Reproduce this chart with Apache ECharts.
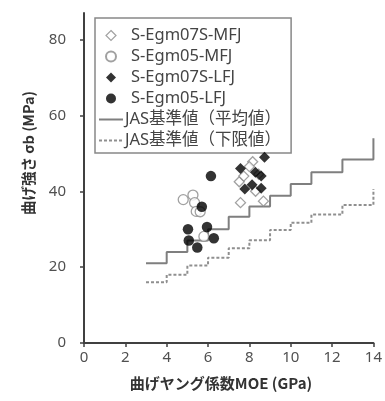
<!DOCTYPE html>
<html><head><meta charset="utf-8">
<script src="https://cdn.jsdelivr.net/npm/echarts@6/dist/echarts.min.js"></script>
<style>html,body{margin:0;padding:0;background:#fff}#c{width:385px;height:401px}</style>
</head><body><div id="c"></div>
<script>
const seriesNames = ['S-Egm07S-MFJ','S-Egm05-MFJ','S-Egm07S-LFJ','S-Egm05-LFJ','JAS基準値（平均値）','JAS基準値（下限値）'];
const egm07sMFJ = [[7.57,37.0],[8.68,37.4],[8.16,47.8],[8.0,46.5],[7.51,42.5],[7.73,44.0],[8.3,40.0],[8.45,44.5]];
const egm05MFJ = [[4.8,37.8],[5.27,39.0],[5.35,37.0],[5.43,34.7],[5.62,34.6],[5.8,28.1]];
const egm07sLFJ = [[8.73,49.0],[7.57,46.0],[8.29,45.0],[8.57,44.0],[7.78,40.6],[8.13,41.7],[8.57,40.8]];
const egm05LFJ = [[6.14,44.0],[5.7,35.9],[5.03,30.0],[5.95,30.6],[5.07,27.0],[5.48,25.2],[6.28,27.6]];
const jasMean = [[3,21],[4,24],[5,27],[6,30],[7,33.3],[8,36],[9,38.8],[10,41.9],[11,45],[12.5,48.4],[14,54]];
const jasLower = [[3,16],[4,18],[5,20.4],[6,22.5],[7,25],[8,27.1],[9,29.8],[10,31.7],[11,33.9],[12.5,36.4],[14,40.6]];
const xTicks = [0,2,4,6,8,10,12,14];
const yTicks = [0,20,40,60,80];
const xTitle = '曲げヤング係数MOE (GPa)';
const yTitle = '曲げ強さ σb (MPa)';

const chart = echarts.init(document.getElementById('c'));
const latin = '"Noto Sans","Noto Sans CJK JP",sans-serif';
const diamondPath = 'path://M5,0L10,5L5,10L0,5Z';
const symText = {padding:[0,0,0,3]};
chart.setOption({
  animation:false,
  backgroundColor:'#fff',
  grid:{left:84,right:7,top:13,bottom:58},
  xAxis:{type:'value',min:0,max:14,interval:2,
    axisLine:{lineStyle:{color:'#404040',width:2}},
    axisTick:{show:true,length:4,lineStyle:{color:'#404040',width:1.5}},
    axisLabel:{color:'#505050',fontSize:15,fontFamily:latin,margin:7},
    splitLine:{show:false}},
  yAxis:{type:'value',min:0,max:87,
    axisLine:{show:true,lineStyle:{color:'#404040',width:2}},
    axisTick:{show:true,length:4,customValues:yTicks,lineStyle:{color:'#404040',width:1.5}},
    axisLabel:{color:'#505050',fontSize:15,fontFamily:latin,margin:18,customValues:yTicks},
    splitLine:{show:false}},
  legend:{orient:'vertical',left:95,top:18,itemWidth:24,itemHeight:10,itemGap:4,
    symbolKeepAspect:true,
    borderColor:'#888',borderWidth:1.5,padding:[9,10,4,3],
    textStyle:{color:'#444',fontSize:16.5,fontFamily:latin,lineHeight:17,padding:[0,0,0,-3]},
    data:[
      {name:seriesNames[0],icon:diamondPath,itemStyle:{color:'#fff',borderColor:'#8a8a8a',borderWidth:1.2},textStyle:symText},
      {name:seriesNames[1],icon:'circle',textStyle:symText},
      {name:seriesNames[2],icon:diamondPath,textStyle:symText},
      {name:seriesNames[3],icon:'circle',textStyle:symText},
      {name:seriesNames[4],itemStyle:{opacity:0}},
      {name:seriesNames[5],itemStyle:{opacity:0}}
    ]},
  graphic:[
    {type:'text',x:221,y:383,style:{text:xTitle,align:'center',verticalAlign:'middle',fill:'#333',font:'bold 15px "Noto Sans CJK JP","Noto Sans",sans-serif'}},
    {type:'text',x:28,y:153,rotation:Math.PI/2,style:{text:yTitle,align:'center',verticalAlign:'middle',fill:'#333',font:'bold 14.5px "Noto Sans CJK JP","Noto Sans",sans-serif'}}
  ],
  series:[
    {name:seriesNames[4],type:'line',step:'end',data:jasMean,symbol:'none',itemStyle:{color:'#7f7f7f'},lineStyle:{color:'#7f7f7f',width:2},z:1},
    {name:seriesNames[5],type:'line',step:'end',data:jasLower,symbol:'none',itemStyle:{color:'#8f8f8f'},lineStyle:{color:'#8f8f8f',width:2,type:[3,2]},z:1},
    {name:seriesNames[0],type:'scatter',data:egm07sMFJ,symbol:'diamond',symbolSize:10,itemStyle:{color:'#fff',borderColor:'#8a8a8a',borderWidth:1.3},z:3},
    {name:seriesNames[1],type:'scatter',data:egm05MFJ,symbol:'circle',symbolSize:10,itemStyle:{color:'#fff',borderColor:'#8a8a8a',borderWidth:1.3},z:3},
    {name:seriesNames[2],type:'scatter',data:egm07sLFJ,symbol:'diamond',symbolSize:11,itemStyle:{color:'#000'},z:4},
    {name:seriesNames[3],type:'scatter',data:egm05LFJ,symbol:'circle',symbolSize:10.5,itemStyle:{color:'#000'},z:4}
  ]
});
</script></body></html>
